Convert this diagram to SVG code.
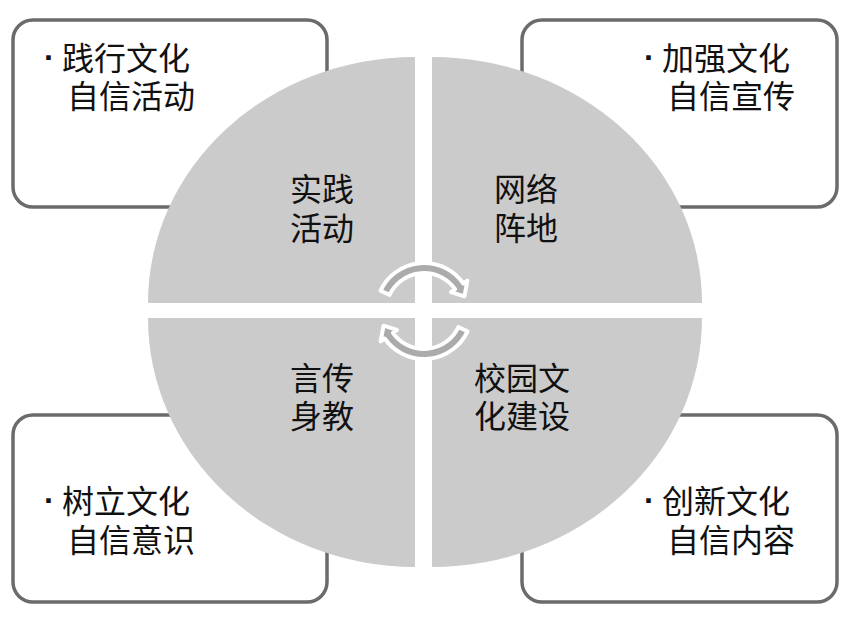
<svg xmlns="http://www.w3.org/2000/svg" width="852" height="618" viewBox="0 0 852 618">
  <style>
    .box{fill:#ffffff;stroke:#6b6b6b;stroke-width:3.5}
    .quad{fill:#cbcbcb}
    .t{font-family:"Noto Sans CJK SC","Noto Sans CJK TC",sans-serif;font-size:32px;fill:#111111}
    .b{font-family:"Liberation Sans",Arial,sans-serif;font-size:32px;font-weight:bold;fill:#111111}
    .arr{fill:#ababab;stroke:#ffffff;stroke-width:4;stroke-linejoin:round}
  </style>
  <rect width="852" height="618" fill="#ffffff"/>
  <g id="box-tl"><rect class="box" x="13" y="20" width="314" height="187" rx="20"/></g>
  <g id="box-tr"><rect class="box" x="522" y="20" width="315" height="187" rx="20"/></g>
  <g id="box-bl"><rect class="box" x="13" y="415" width="314" height="187" rx="20"/></g>
  <g id="box-br"><rect class="box" x="522" y="415" width="315" height="187" rx="20"/></g>

  <g id="quad-tl"><path class="quad" d="M415,303 L148,303 A267,246 0 0 1 415,57 Z"/></g>
  <g id="quad-tr"><path class="quad" d="M432,303 L432,57 A270,246 0 0 1 702,303 Z"/></g>
  <g id="quad-br"><path class="quad" d="M432,318 L702,318 A270,249 0 0 1 432,567 Z"/></g>
  <g id="quad-bl"><path class="quad" d="M415,318 L415,567 A267,249 0 0 1 148,318 Z"/></g>

  <g id="connectors">
    <path id="arrow-top" class="arr" d="M380.5,290.7 A48,48 0 0 1 463.3,283.5 L467.4,280.6 L464.4,296.3 L451.0,292.1 L455.1,289.2 A38,38 0 0 0 389.6,294.9 Z"/>
    <path id="arrow-bottom" class="arr" transform="rotate(180 424 311)" d="M380.5,290.7 A48,48 0 0 1 463.3,283.5 L467.4,280.6 L464.4,296.3 L451.0,292.1 L455.1,289.2 A38,38 0 0 0 389.6,294.9 Z"/>
  </g>

  <g id="label-tl"><text class="b" x="44" y="68">·</text><text class="t"><tspan x="62" y="70">践行文化</tspan><tspan x="67" y="108">自信活动</tspan></text></g>
  <g id="label-tr"><text class="b" x="644" y="68">·</text><text class="t"><tspan x="662" y="70">加强文化</tspan><tspan x="667" y="108">自信宣传</tspan></text></g>
  <g id="label-bl"><text class="b" x="44" y="511">·</text><text class="t"><tspan x="62" y="513">树立文化</tspan><tspan x="67" y="552">自信意识</tspan></text></g>
  <g id="label-br"><text class="b" x="644" y="511">·</text><text class="t"><tspan x="662" y="513">创新文化</tspan><tspan x="667" y="552">自信内容</tspan></text></g>

  <g id="q-label-tl"><text class="t"><tspan x="290" y="201">实践</tspan><tspan x="290" y="240">活动</tspan></text></g>
  <g id="q-label-tr"><text class="t"><tspan x="494" y="201">网络</tspan><tspan x="494" y="240">阵地</tspan></text></g>
  <g id="q-label-bl"><text class="t"><tspan x="290" y="390">言传</tspan><tspan x="290" y="428">身教</tspan></text></g>
  <g id="q-label-br"><text class="t"><tspan x="474" y="390">校园文</tspan><tspan x="474" y="428">化建设</tspan></text></g>
</svg>
